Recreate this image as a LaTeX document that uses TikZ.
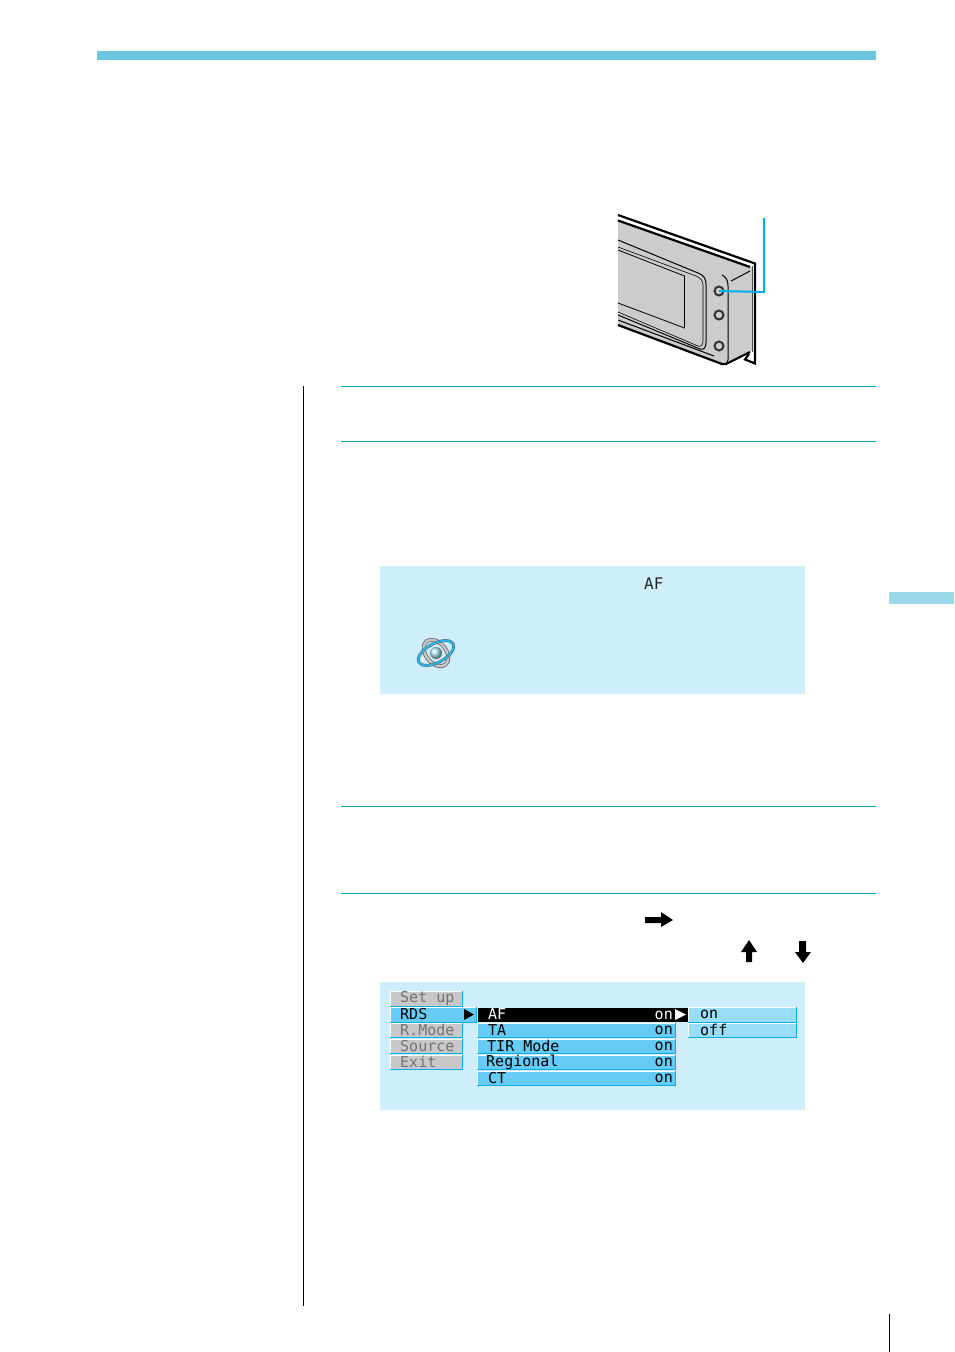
\documentclass[tikz,border=0pt]{standalone}
\usepackage{fontspec}
\setmonofont{DejaVu Sans Mono}
\definecolor{hdr}{HTML}{6CC6DF}
\definecolor{tab}{HTML}{9BD9EA}
\definecolor{rulec}{HTML}{0E9FC6}
\definecolor{panel}{HTML}{CCEFFB}
\definecolor{cy}{HTML}{00AEEF}
\definecolor{mgray}{HTML}{C8C8C8}
\definecolor{mblue}{HTML}{66CCF5}
\definecolor{mopt}{HTML}{99DDF8}
\definecolor{devg}{HTML}{CCCCCC}
\newcommand{\mitem}[6]{% name, x1,y1,x2,y2, fill
  \node[itembox,fill=#6,minimum width={(#4-#2)*1pt},minimum height={(#5-#3)*1pt}] (#1) at (#2,#3) {};
  \draw[edgehi] (#2,#5) -- (#2,#3) -- (#4,#3);
  \draw[edgelo] (#2,#5) -- (#4,#5) -- (#4,#3);
}
\tikzset{
  itembox/.style={anchor=north west,inner sep=0pt,outer sep=0pt,draw=none},
  edgehi/.style={white,line width=1pt},
  edgelo/.style={cy,line width=1pt},
  menutext/.style={anchor=west,inner sep=0pt,font=\ttfamily\fontsize{15}{15}\selectfont},
  graytext/.style={menutext,text=black!55},
  rulel/.style={rulec,line width=0.9pt},
  devl/.style={black,line width=1pt},
  devh/.style={black,line width=2.2pt},
  btn/.style={circle,draw=black!80,line width=2pt,fill=devg,minimum size=9pt,inner sep=0pt},
}
\begin{document}
\begin{tikzpicture}[x=1pt,y=-1pt]
\useasboundingbox (0,0) rectangle (954,1352);
\fill[white] (0,0) rectangle (954,1352);
% page furniture
\fill[hdr] (97,51) rectangle (876,60);
\fill[tab] (889,592) rectangle (954,604);
\draw[black,line width=1pt] (303.5,386) -- (303.5,1306);
\draw[black,line width=0.8pt] (889,1314) -- (889,1352);
\foreach \yy in {386,441,806,893} \draw[rulel] (341,\yy) -- (876,\yy);
% device
\fill[devg] (618,220) -- (752,267) -- (752,350) -- (724,364) -- (618,326) -- cycle;
\draw[devh] (618,215) -- (755,263.5) -- (755,363.5) -- (745,359.5) -- (749,354);
\draw[devh] (618,220.5) -- (750,267);
\draw[black!70,line width=0.8pt] (752.5,266) -- (752.5,352);
\draw[devh] (618,325) -- (722,364) -- (726,364) -- (750,352);
\draw[devl] (618,320) -- (714,356);
\draw[devl] (731,281) -- (750,271);
\draw[devl] (618,240) -- (698,273) .. controls (704,275) and (706,279) .. (706,284) -- (706,342) .. controls (706,348) and (704,350) .. (700,349) -- (618,315);
\draw[line width=0.6pt] (618,247) -- (696,276) .. controls (701,278) and (703,281) .. (703,285) -- (703,341) .. controls (703,345) and (701,347) .. (698,346) -- (618,312);
\draw[line width=0.8pt] (618,250) -- (684.5,276) -- (684.5,328) -- (618,303);
\draw[devl] (722,275) .. controls (726,277) and (728,280) .. (728,286) -- (728,360) .. controls (728,363) and (726,364) .. (724,364);
\node[btn] (b1) at (719,291) {};
\node[btn] (b2) at (719,315) {};
\node[btn] (b3) at (719,346) {};
\coordinate (calltop) at (764,218);
\draw[cy,line width=2pt] (calltop) -- (764,292) -- (b1.center);
% panels
\fill[panel] (380,566) rectangle (805,694);
\fill[panel] (380,982) rectangle (805,1110);
\node[anchor=west,inner sep=0pt,font=\ttfamily\fontsize{16}{16}\selectfont,text=black!85] (af) at (644,584) {AF};
% orb icon
\draw[black!60,line width=4pt,rotate around={-50:(436,653)}] (436,653) ellipse [x radius=15pt,y radius=10pt];
\draw[mgray,line width=2.4pt,rotate around={-50:(436,653)}] (436,653) ellipse [x radius=15pt,y radius=10pt];
\shade[ball color=white!70!cy] (436,653) circle (6pt);
\draw[black!65,line width=2.8pt,rotate around={28:(436,653)}] (436,653) ellipse [x radius=19.5pt,y radius=9.5pt];
\draw[cy!85,line width=1.8pt,rotate around={28:(436,653)}] (436,653) ellipse [x radius=19.5pt,y radius=9.5pt];
% arrows
\fill[black] (645,917) -- (661,917) -- (661,912) -- (673,920) -- (661,927) -- (661,923) -- (645,923) -- cycle;
\fill[black] (749,940) -- (757,952) -- (752,952) -- (752,962) -- (746,962) -- (746,952) -- (741,952) -- cycle;
\fill[black] (803,963) -- (811,952) -- (806,952) -- (806,941) -- (799,941) -- (799,952) -- (795,952) -- cycle;
% left menu
\mitem{m1}{390}{991}{462}{1006}{mgray}
\node[graytext] (m1t) at (400,998) {Set up};
\mitem{m2}{390}{1007}{476}{1022}{mblue}
\node[menutext] (m2t) at (400,1014) {RDS};
\mitem{m3}{390}{1023}{462}{1037}{mgray}
\node[graytext] (m3t) at (400,1030) {R.Mode};
\mitem{m4}{390}{1039}{462}{1053}{mgray}
\node[graytext] (m4t) at (400,1046) {Source};
\mitem{m5}{390}{1055}{462}{1069}{mgray}
\node[graytext] (m5t) at (400,1062) {Exit};
\fill[black] (464,1009) -- (474,1014.5) -- (464,1020) -- cycle;
% sub menu
\mitem{s2}{477}{1023}{675}{1037}{mblue}
\mitem{s3}{477}{1039}{675}{1053}{mblue}
\mitem{s4}{477}{1055}{675}{1069}{mblue}
\mitem{s5}{477}{1071}{675}{1085}{mblue}
\node[itembox,fill=black,minimum width=210pt,minimum height=14.5pt] (s1) at (477.5,1007.5) {};
\node[menutext,text=white] (s1t) at (488,1014) {AF};
\node[menutext] (s2t) at (488,1030) {TA};
\node[menutext] (s3t) at (487,1046) {TIR Mode};
\node[menutext] (s4t) at (486,1062) {Regional};
\node[menutext] (s5t) at (488,1078) {CT};
\node[menutext,anchor=east,text=white] (s1v) at (673,1015) {on};
\node[menutext,anchor=east] (s2v) at (673,1030) {on};
\node[menutext,anchor=east] (s3v) at (673,1046) {on};
\node[menutext,anchor=east] (s4v) at (673,1062) {on};
\node[menutext,anchor=east] (s5v) at (673,1078) {on};
\fill[white] (675,1009) -- (686,1014.5) -- (675,1020) -- cycle;
% options
\mitem{o1}{688}{1007}{796}{1022}{mopt}
\mitem{o2}{688}{1023}{796}{1037}{mopt}
\node[menutext] (o1t) at (700,1014) {on};
\node[menutext] (o2t) at (700,1030) {off};
\end{tikzpicture}
\end{document}
